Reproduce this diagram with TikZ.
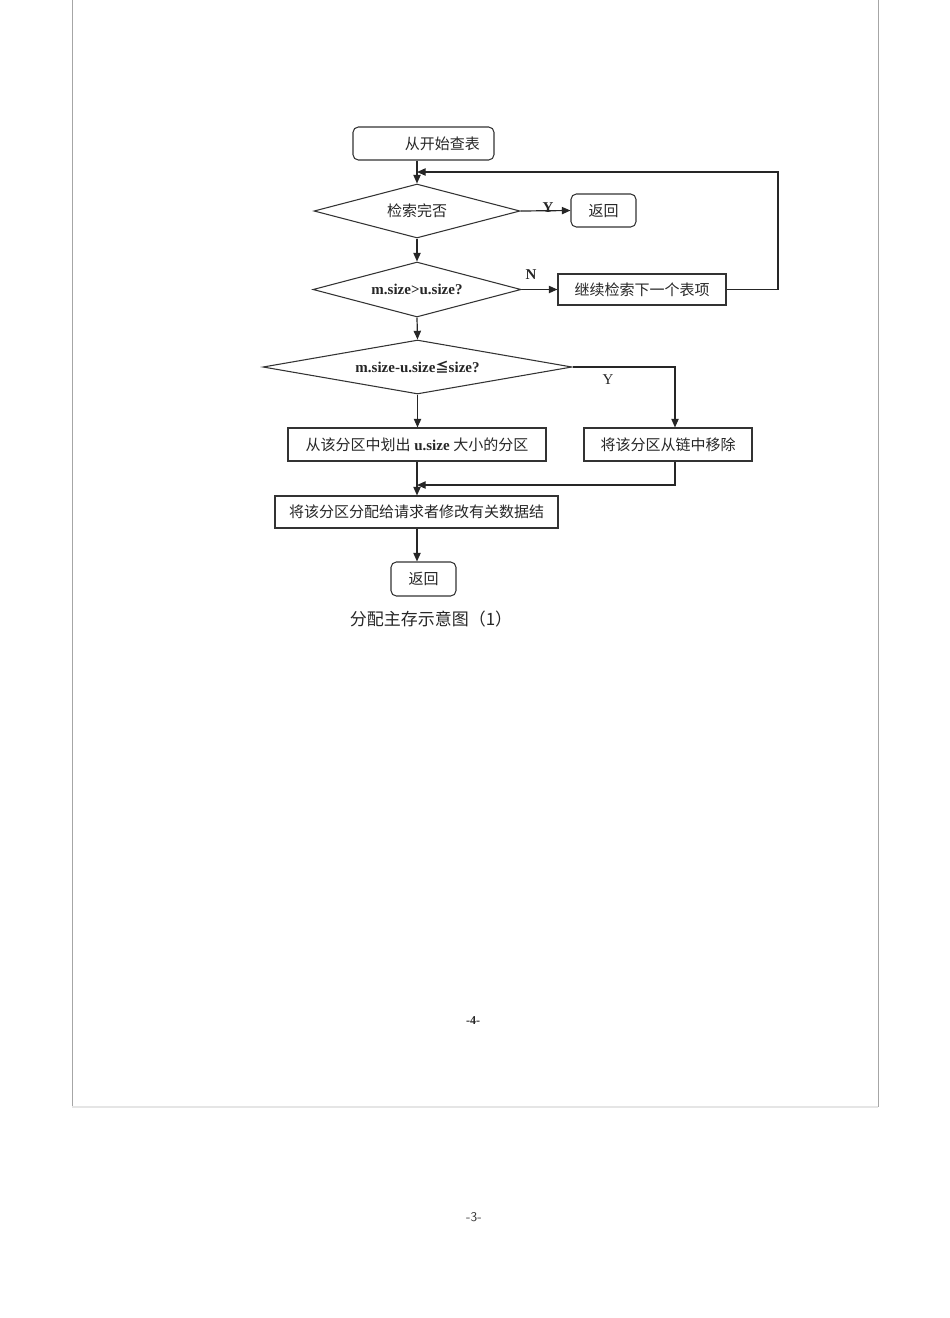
\documentclass[tikz,border=0pt]{standalone}
\usepackage{fontspec}
\setmainfont{Liberation Serif}
\newfontfamily\cjk{Noto Sans CJK SC}
\usetikzlibrary{shapes.geometric,arrows.meta}
\begin{document}
\begin{tikzpicture}[x=0.75pt,y=-0.75pt,
  every node/.style={font=\fontsize{11.25}{13}\selectfont, inner sep=0pt, text=black!85},
  rbox/.style={draw=black!80, line width=0.8pt, rounded corners=4pt},
  sbox/.style={draw=black!80, line width=0.8pt},
  dia/.style={diamond, draw=black!80, line width=0.8pt},
  arr/.style={-{Triangle[length=6.5pt,width=5.5pt]}, line width=0.9pt, draw=black!85},
  lbl/.style={font=\bfseries\fontsize{11.25}{13}\selectfont, inner sep=0.5pt}]
\useasboundingbox (0,0) rectangle (950,1318);
% page frame
\draw[gray!70, line width=0.6pt] (72,0) -- (72,1107);
\draw[gray!70, line width=0.6pt] (878,0) -- (878,1107);
\draw[gray!20, line width=1.5pt] (72,1107) -- (878,1107);

% nodes
\node[rbox, minimum width=105.75pt, minimum height=24.75pt] (start) at (423.5,143.5) {\hspace*{2.5em}\cjk 从开始查表};
\node[dia, shape aspect=3.8, minimum width=154.5pt, minimum height=40.5pt] (d1) at (417,211) {\cjk 检索完否};
\node[rbox, minimum width=48.75pt, minimum height=24.75pt] (ret1) at (603.5,210.5) {\cjk 返回};
\node[dia, shape aspect=3.8, minimum width=156pt, minimum height=41.25pt] (d2) at (417,289.5) {\bfseries m.size>u.size?};
\node[sbox, minimum width=126pt, minimum height=23.25pt] (next) at (642,289.5) {\cjk 继续检索下一个表项};
\node[dia, shape aspect=5.7, minimum width=231.75pt, minimum height=40.5pt] (d3) at (417.5,367) {\bfseries m.size-u.size{\cjk\fontsize{10}{12}\selectfont ≦}size?};
\node[sbox, minimum width=193.5pt, minimum height=24.75pt] (cut) at (417,444.5) {{\cjk 从该分区中划出} \textbf{u.size} {\cjk 大小的分区}};
\node[sbox, minimum width=126pt, minimum height=24.75pt] (rem) at (668,444.5) {\cjk 将该分区从链中移除};
\node[sbox, minimum width=212.25pt, minimum height=24pt] (alloc) at (416.5,512) {\cjk 将该分区分配给请求者修改有关数据结};
\node[rbox, minimum width=48.75pt, minimum height=25.5pt] (ret2) at (423.5,579) {\cjk 返回};
\node[font=\cjk\fontsize{12.75}{14}\selectfont] (cap) at (431,619) {分配主存示意图（1）};
\node[font=\bfseries\fontsize{9}{10}\selectfont] (p4) at (473,1021) {-4-};
\node[font=\sffamily\fontsize{10}{11}\selectfont, text=black!80] (p3) at (474,1217) {-3-};

% connectors
\coordinate (loopR) at (778,172);
\coordinate (yb) at (675,367);
\coordinate (mg) at (675,485);
\draw[arr] (start.south -| d1.north) -- (d1.north);
\draw[arr] (next.east) -| (loopR) -- (loopR -| d1.north);
\draw[arr] (d1.east) -- (ret1.west);
\node[lbl] (ylab1) at (548,208) {Y};
\draw[arr] (d1.south) -- (d2.north);
\draw[arr] (d2.east) -- (next.west);
\node[lbl] (nlab) at (531,275) {N};
\draw[arr] (d2.south) -- (d3.north);
\draw[arr] (d3.south) -- (d3.south |- cut.north);
\draw[arr] (d3.east) -- (yb) -- (yb |- rem.north);
\node[font=\fontsize{11.25}{13}\selectfont] (ylab2) at (608,380) {Y};
\draw[arr] (cut.south) -- (cut.south |- alloc.north);
\draw[arr] (rem.south -| mg) -- (mg) -- (mg -| cut.south);
\draw[arr] (alloc.south -| ret2.north) ++(-6.5,0) coordinate (a2) -- (a2 |- ret2.north);
\end{tikzpicture}
\end{document}
